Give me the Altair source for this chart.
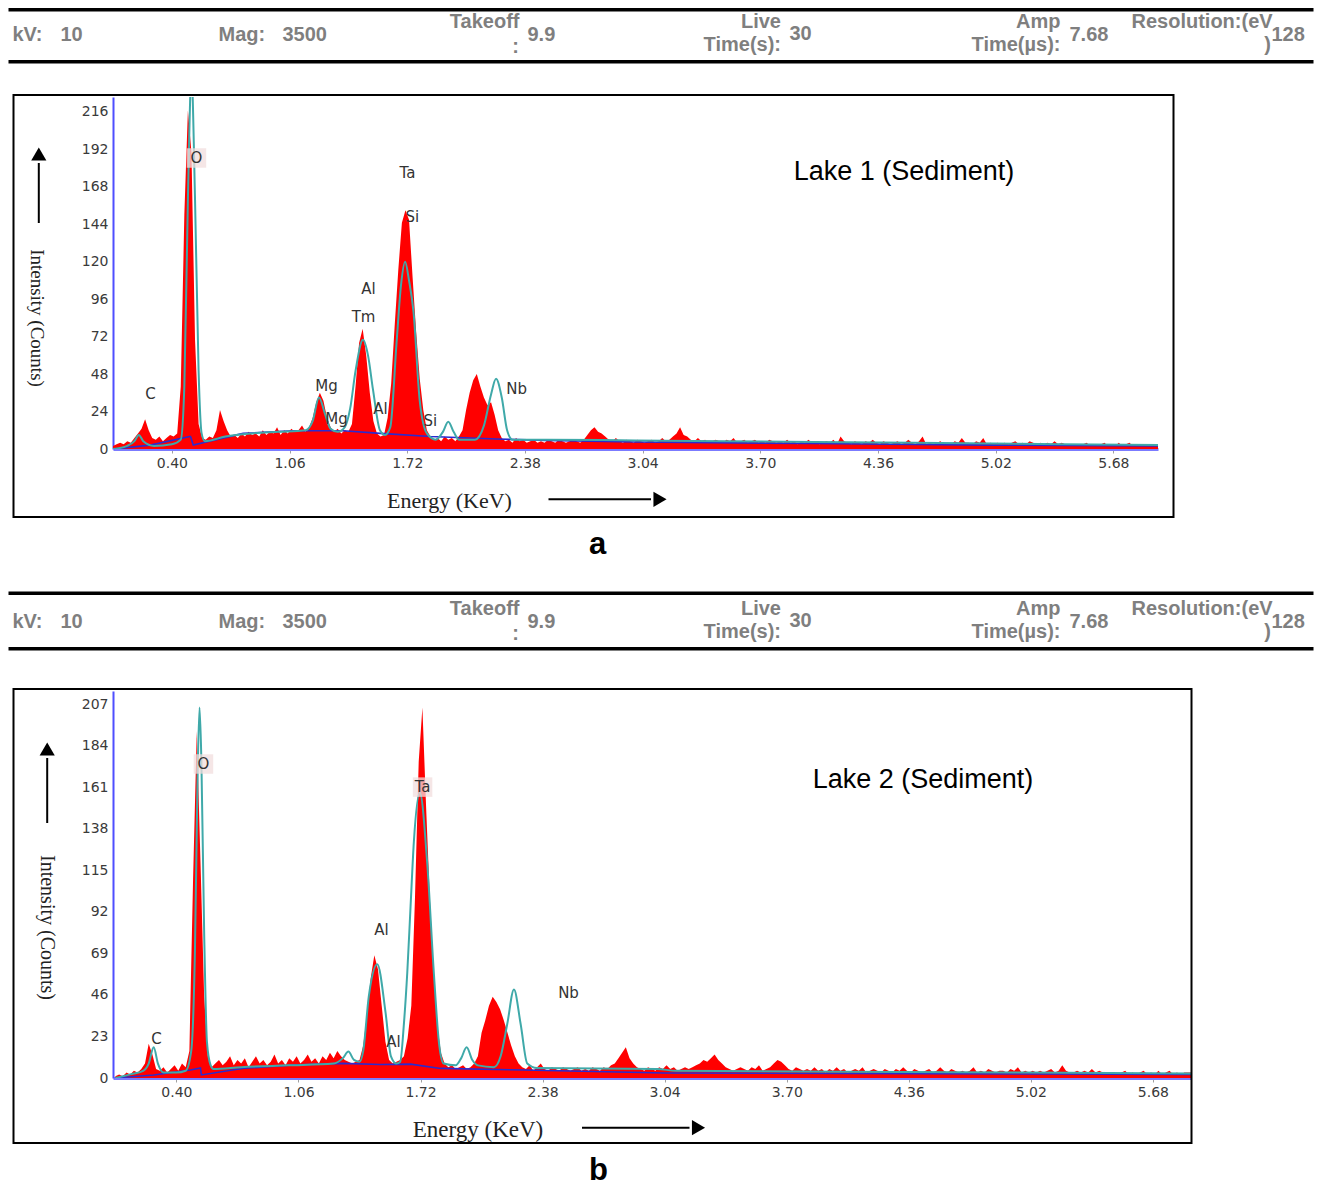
import altair as alt
import numpy as np
import pandas as pd

# ------------------------------------------------------------------ data
E_START = 0.07   # first channel (keV)
E_STEP = 0.02    # channel width (keV)

energy_ticks = [0.40, 1.06, 1.72, 2.38, 3.04, 3.70, 4.36, 5.02, 5.68]
lake1_yticks = [0, 24, 48, 72, 96, 120, 144, 168, 192, 216]
lake2_yticks = [0, 23, 46, 69, 92, 115, 138, 161, 184, 207]

header_names = ["kV:", "Mag:", "Takeoff", "Live", "Amp", "Resolution:(eV"]
header_second = [":", "Time(s):", "Time(µs):", ")"]
header_values = ["10", "3500", "9.9", "30", "7.68", "128"]

# measured spectrum (counts per channel), Lake 1
lake1_counts = [
    2, 3, 4, 3, 5, 4, 7, 10, 13, 19,
    12, 7, 6, 8, 5, 7, 9, 8, 10, 40,
    150, 217, 190, 70, 16, 7, 6, 8, 7, 12,
    25, 18, 12, 8, 9, 7, 10, 8, 11, 9,
    10, 8, 12, 9, 11, 10, 14, 9, 12, 10,
    13, 11, 12, 15, 11, 14, 20, 30, 36, 31,
    20, 14, 11, 13, 10, 12, 11, 16, 40, 68,
    77, 60, 36, 18, 10, 8, 9, 20, 42, 80,
    115, 145, 153, 147, 110, 75, 45, 25, 12, 8,
    6, 7, 5, 8, 6, 7, 5, 8, 12, 25,
    36, 44, 48, 40, 33, 28, 30, 22, 12, 7,
    5, 6, 4, 7, 5, 6, 4, 5, 6, 4,
    5, 4, 6, 5, 4, 6, 5, 4, 5, 6,
    5, 4, 6, 9, 12, 14, 11, 10, 8, 6,
    5, 7, 5, 4, 6, 5, 4, 6, 5, 4,
    5, 6, 4, 5, 7, 5, 6, 8, 10, 14,
    9, 8, 6, 5, 7, 5, 6, 4, 5, 6,
    5, 4, 6, 5, 7, 4, 5, 6, 4, 5,
    6, 4, 5, 4, 6, 5, 4, 5, 4, 6,
    4, 5, 3, 5, 4, 6, 4, 5, 3, 4,
    5, 4, 6, 3, 8, 5, 4, 3, 5, 4,
    3, 5, 4, 6, 4, 3, 5, 4, 3, 4,
    5, 3, 4, 6, 4, 3, 5, 8, 3, 4,
    3, 4, 5, 3, 4, 3, 5, 4, 7, 4,
    4, 3, 5, 4, 7, 3, 4, 3, 4, 3,
    4, 3, 4, 5, 3, 4, 3, 5, 4, 3,
    4, 3, 4, 3, 5, 3, 4, 3, 2, 3,
    3, 2, 3, 4, 2, 3, 2, 3, 4, 2,
    3, 2, 4, 2, 3, 4, 2, 3, 2, 3,
    2, 3, 2, 2,
]

# fitted curve (teal) vertices, Lake 1
lake1_fit_E = [0.07, 0.15, 0.19, 0.215, 0.24, 0.30, 0.40, 0.45, 0.47, 0.49,
               0.51, 0.53, 0.55, 0.567, 0.585, 0.70, 0.85, 1.00, 1.15, 1.19,
               1.225, 1.26, 1.29, 1.33, 1.37, 1.40, 1.43, 1.472, 1.50, 1.528,
               1.567, 1.595, 1.625, 1.66, 1.685, 1.708, 1.73, 1.755, 1.79, 1.83,
               1.88, 1.92, 1.95, 1.98, 2.01, 2.10, 2.15, 2.19, 2.218, 2.25,
               2.28, 2.31, 2.50, 3.00, 4.00, 5.00, 5.93]
lake1_fit_c = [0, 2, 5, 9, 5, 2, 3, 6, 40, 160,
               240, 160, 50, 10, 5, 8, 10, 11, 12, 18,
               33, 22, 13, 11, 14, 26, 50, 70, 60, 38,
               12, 9, 14, 68, 105, 120, 108, 88, 31, 10,
               6, 11, 17.5, 11, 6, 6, 15, 35, 45, 33,
               12, 6, 6, 5.5, 4.5, 3.5, 2.5]

# background (blue) vertices, Lake 1
lake1_bg_E = [0.07, 0.28, 0.50, 0.505, 0.52, 0.80, 1.08, 1.36, 1.57, 1.85,
              2.22, 2.50, 3.00, 4.00, 5.00, 5.93]
lake1_bg_c = [0, 2.5, 8, 8, 2.5, 10, 11.7, 11.7, 10, 8,
              6.4, 5.5, 4.5, 3.5, 2.5, 2]

lake1_label_text = ["C", "O", "Ta", "Si", "Al", "Tm", "Mg", "Mg", "Al", "Si", "Nb"]
lake1_label_E = [0.280, 0.538, 1.721, 1.749, 1.503, 1.475, 1.267, 1.323, 1.570, 1.850, 2.333]
lake1_label_c = [35, 186.5, 177, 148.7, 102.5, 84.6, 40.4, 19.2, 25.6, 17.9, 38.5]
lake1_highlighted = ["O"]

# measured spectrum, Lake 2
lake2_counts = [
    1, 2, 1, 3, 2, 4, 3, 5, 8, 19,
    13, 5, 4, 6, 3, 5, 7, 4, 8, 6,
    15, 110, 192, 120, 45, 12, 6, 8, 10, 7,
    9, 12, 7, 10, 8, 11, 6, 9, 12, 8,
    10, 7, 9, 13, 8, 10, 7, 11, 9, 12,
    8, 10, 13, 9, 11, 8, 12, 10, 14, 11,
    15, 12, 10, 9, 8, 9, 10, 18, 35, 55,
    68, 60, 40, 20, 10, 8, 9, 10, 12, 22,
    40, 100, 175, 205, 150, 100, 60, 30, 14, 8,
    6, 7, 5, 6, 7, 5, 6, 8, 12, 25,
    32, 40, 45, 42, 38, 32, 25, 18, 12, 8,
    6, 5, 7, 4, 6, 8, 5, 4, 6, 5,
    4, 6, 5, 4, 5, 6, 4, 5, 4, 6,
    5, 4, 6, 5, 7, 8, 11, 14, 17, 11,
    8, 6, 5, 4, 6, 5, 4, 6, 5, 7,
    5, 6, 4, 5, 6, 5, 6, 7, 8, 10,
    9, 11, 13, 10, 8, 6, 5, 4, 5, 6,
    5, 4, 6, 5, 7, 4, 5, 6, 8, 10,
    9, 7, 5, 4, 6, 5, 4, 5, 4, 6,
    4, 5, 3, 5, 4, 6, 4, 5, 3, 4,
    5, 4, 6, 3, 4, 5, 4, 3, 5, 4,
    3, 5, 4, 6, 4, 3, 5, 4, 3, 4,
    5, 3, 4, 6, 4, 3, 5, 4, 3, 4,
    3, 4, 6, 3, 4, 3, 5, 4, 3, 4,
    4, 3, 5, 4, 6, 3, 4, 3, 4, 3,
    4, 3, 4, 5, 3, 4, 7, 4, 3, 3,
    4, 3, 4, 3, 5, 3, 4, 3, 2, 3,
    3, 2, 3, 4, 2, 3, 2, 3, 4, 2,
    3, 2, 4, 2, 3, 4, 2, 3, 2, 3,
    3, 3,
]

lake2_fit_E = [0.07, 0.15, 0.22, 0.25, 0.277, 0.30, 0.33, 0.40, 0.45, 0.48,
               0.50, 0.515, 0.525, 0.535, 0.55, 0.565, 0.585, 0.60, 0.75, 1.00,
               1.25, 1.30, 1.33, 1.36, 1.39, 1.41, 1.44, 1.486, 1.531, 1.56,
               1.59, 1.61, 1.63, 1.648, 1.666, 1.684, 1.716, 1.756, 1.792, 1.819,
               1.845, 1.91, 1.94, 1.969, 2.00, 2.03, 2.117, 2.153, 2.189, 2.225,
               2.261, 2.297, 2.35, 3.00, 3.10, 4.00, 5.00, 5.89]
lake2_fit_c = [0, 2, 4, 8, 17, 8, 3, 3, 4, 15,
               70, 170, 205, 175, 80, 20, 7, 5, 6, 7,
               8, 11, 14.6, 10, 9, 15, 45, 63, 36, 12,
               8, 9, 30, 58, 95, 131, 158, 119, 58, 20,
               8, 7, 11, 17, 10, 7, 6, 12, 30, 49,
               30, 8, 5.5, 5, 4, 3.5, 3, 2.5]

lake2_bg_E = [0.07, 0.277, 0.476, 0.53, 0.535, 0.764, 1.033, 1.30, 1.50, 1.666,
              1.828, 2.277, 3.04, 4.00, 5.00, 5.89]
lake2_bg_c = [0, 1.7, 4.4, 5.5, 1.7, 5.4, 7.2, 8.1, 7.5, 7.7,
              5.3, 4.4, 2.8, 2.5, 2.2, 2.0]

lake2_label_text = ["C", "O", "Al", "Al", "Ta", "Nb"]
lake2_label_E = [0.292, 0.546, 1.509, 1.574, 1.731, 2.52]
lake2_label_c = [21.6, 173.8, 81.9, 19.9, 161, 47]
lake2_highlighted = ["O", "Ta"]

# ------------------------------------------------------------------ helpers
HEAD_FONT = "Liberation Sans"
HEAD_COLOR = "#7f7f7f"
SERIF = "Liberation Serif"
LEFT_EDGE = -104.5     # header rules start at page margin
RIGHT_EDGE = 1200.5    # header rules end (keeps page width within window)


def one():
    return alt.Data(values=[{"k": 0}])


def txt(s, x, y, size, color="black", font=HEAD_FONT, weight="normal",
        align="left", baseline="middle", angle=0):
    return alt.Chart(one()).mark_text(
        text=s, fontSize=size, color=color, font=font, fontWeight=weight,
        align=align, baseline=baseline, angle=angle
    ).encode(x=alt.value(x), y=alt.value(y))


def hbar(x1, x2, yc, w):
    return alt.Chart(one()).mark_rect(color="black").encode(
        x=alt.value(x1), x2=alt.value(x2),
        y=alt.value(yc - w / 2), y2=alt.value(yc + w / 2))


def hrule(x1, x2, y, w):
    return alt.Chart(one()).mark_rule(color="black", strokeWidth=w).encode(
        x=alt.value(x1), x2=alt.value(x2), y=alt.value(y))


def vrule(x, y1, y2, w):
    return alt.Chart(one()).mark_rule(color="black", strokeWidth=w).encode(
        x=alt.value(x), y=alt.value(y1), y2=alt.value(y2))


def tri(x, y, shape, size):
    return alt.Chart(one()).mark_point(
        shape=shape, filled=True, color="black", size=size, opacity=1
    ).encode(x=alt.value(x), y=alt.value(y))


def header(T, top_line):
    main, up, low = T + 28.7, T + 15.4, T + 38.7
    hw = dict(size=20, color=HEAD_COLOR, weight="bold")
    layers = [hbar(LEFT_EDGE, RIGHT_EDGE, top_line, 3.5),
              hbar(LEFT_EDGE, RIGHT_EDGE, T + 55.4, 3.5)]
    layers += [
        txt(header_names[0], -100.5, main, **hw),
        txt(header_values[0], -52.5, main, **hw),
        txt(header_names[1], 105.5, main, **hw),
        txt(header_values[1], 169.5, main, **hw),
        txt(header_names[2], 406.5, up, align="right", **hw),
        txt(header_second[0], 402.5, low + 2, align="center", **hw),
        txt(header_values[2], 414.5, main, **hw),
        txt(header_names[3], 668, up, align="right", **hw),
        txt(header_second[1], 668, low, align="right", **hw),
        txt(header_values[3], 676.5, main - 1, **hw),
        txt(header_names[4], 947.5, up, align="right", **hw),
        txt(header_second[2], 947.5, low, align="right", **hw),
        txt(header_values[4], 956.5, main, **hw),
        txt(header_names[5], 1018.5, up, **hw),
        txt(header_second[3], 1154.5, low, align="center", **hw),
        txt(header_values[5], 1158.5, main, **hw),
    ]
    return layers


def panel(counts, fit_E, fit_c, bg_E, bg_c, lab_t, lab_E, lab_c, highlighted,
          yticks, xdom, ydom, width, height, T, top_line, frame_r, frame_b,
          lake_txt, lake_xy, ytitle, ytitle_xy, ytitle_size, yarrow, xtitle_xy,
          xtitle_size, xarrow, letter, letter_xy):
    energy = np.round(E_START + E_STEP * np.arange(len(counts)), 3)
    spec = pd.DataFrame({"E": energy, "c": counts})
    fit = pd.DataFrame({"E": fit_E, "c": fit_c})
    bg = pd.DataFrame({"E": bg_E, "c": bg_c})
    labs = pd.DataFrame({"E": lab_E, "c": lab_c, "t": lab_t})
    hl = labs[labs["t"].isin(highlighted)]

    xs = alt.Scale(domain=xdom, nice=False, zero=False)
    ys = alt.Scale(domain=ydom, nice=False)
    xa = alt.Axis(values=energy_ticks, format=".2f", grid=False,
                  domainColor="#7b7bff", domainWidth=3, tickColor="#a0a0a0",
                  tickSize=4, labelFont="DejaVu Sans", labelFontSize=14,
                  labelColor="#3a3a3a", labelPadding=3)
    ya = alt.Axis(values=yticks, grid=False, domainColor="#4f4fff",
                  domainWidth=2, ticks=False, labelFont="DejaVu Sans",
                  labelFontSize=14, labelColor="#3a3a3a", labelPadding=5)
    X = alt.X("E:Q", scale=xs, axis=xa, title=None)
    Y = alt.Y("c:Q", scale=ys, axis=ya, title=None)

    red = alt.Chart(spec).mark_area(color="#ff0000", interpolate="linear",
                                    clip=True, opacity=1).encode(x=X, y=Y)
    blue = alt.Chart(bg).mark_line(color="#2a2ad0", strokeWidth=1.6,
                                   clip=True).encode(x=X, y=Y)
    teal = alt.Chart(fit).mark_line(color="#3fa9a9", strokeWidth=2,
                                    interpolate="monotone", clip=True).encode(x=X, y=Y)
    boxes = alt.Chart(hl).mark_square(color="#f1dede", opacity=0.75,
                                      size=380).encode(x=X, y=Y)
    labels = alt.Chart(labs).mark_text(font="DejaVu Sans", fontSize=15,
                                       color="#333333").encode(x=X, y=Y, text="t:N")

    frame = alt.Chart(one()).mark_rect(filled=False, color="black",
                                       strokeWidth=2).encode(
        x=alt.value(-99.5), x2=alt.value(frame_r),
        y=alt.value(-2), y2=alt.value(frame_b))

    deco = [
        frame,
        txt(lake_txt, lake_xy[0], lake_xy[1], 27, align="center"),
        txt(ytitle, ytitle_xy[0], ytitle_xy[1], ytitle_size, color="#222222",
            font=SERIF, align="center", angle=90),
        vrule(yarrow[0], yarrow[1], yarrow[2], 2),
        tri(yarrow[0], yarrow[3], "triangle-up", 230),
        txt("Energy (KeV)", xtitle_xy[0], xtitle_xy[1], xtitle_size,
            color="#222222", font=SERIF, align="center"),
        hrule(xarrow[0], xarrow[1], xarrow[2], 2),
        tri(xarrow[3], xarrow[2], "triangle-right", 230),
        txt(letter, letter_xy[0], letter_xy[1], 31, weight="bold",
            align="center", baseline="alphabetic"),
    ]
    return alt.layer(red, blue, teal, boxes, labels, *header(T, top_line),
                     *deco).properties(width=width, height=height)


panel_a = panel(lake1_counts, lake1_fit_E, lake1_fit_c, lake1_bg_E, lake1_bg_c,
                lake1_label_text, lake1_label_E, lake1_label_c, lake1_highlighted,
                lake1_yticks, [0.07, 5.93], [0, 225.6], 1045, 352, -90.7, -87.25,
                1060.5, 420, "Lake 1 (Sediment)", (791, 75),
                "Intensity (Counts)", (-76.5, 221), 19, (-74.2, 66, 126, 57),
                (336.5, 404), 22, (435.5, 538, 402.3, 547),
                "a", (484.5, 457))

panel_b = panel(lake2_counts, lake2_fit_E, lake2_fit_c, lake2_bg_E, lake2_bg_c,
                lake2_label_text, lake2_label_E, lake2_label_c, lake2_highlighted,
                lake2_yticks, [0.057, 5.886], [0, 214.2], 1078, 387, -97.7, -97.7,
                1078.5, 452, "Lake 2 (Sediment)", (810, 89),
                "Intensity (Counts)", (-66.5, 236.5), 20, (-65.8, 67, 132, 58),
                (365, 439), 23, (469, 576.5, 436.7, 585.5),
                "b", (485.5, 489))

chart = alt.vconcat(panel_a, panel_b, spacing=242, bounds="flush").properties(
    padding={"left": 0, "top": 0, "right": 0, "bottom": 0}
).configure_view(stroke=None)

chart.save("out.html", embed_options={"renderer": "svg", "actions": False})
